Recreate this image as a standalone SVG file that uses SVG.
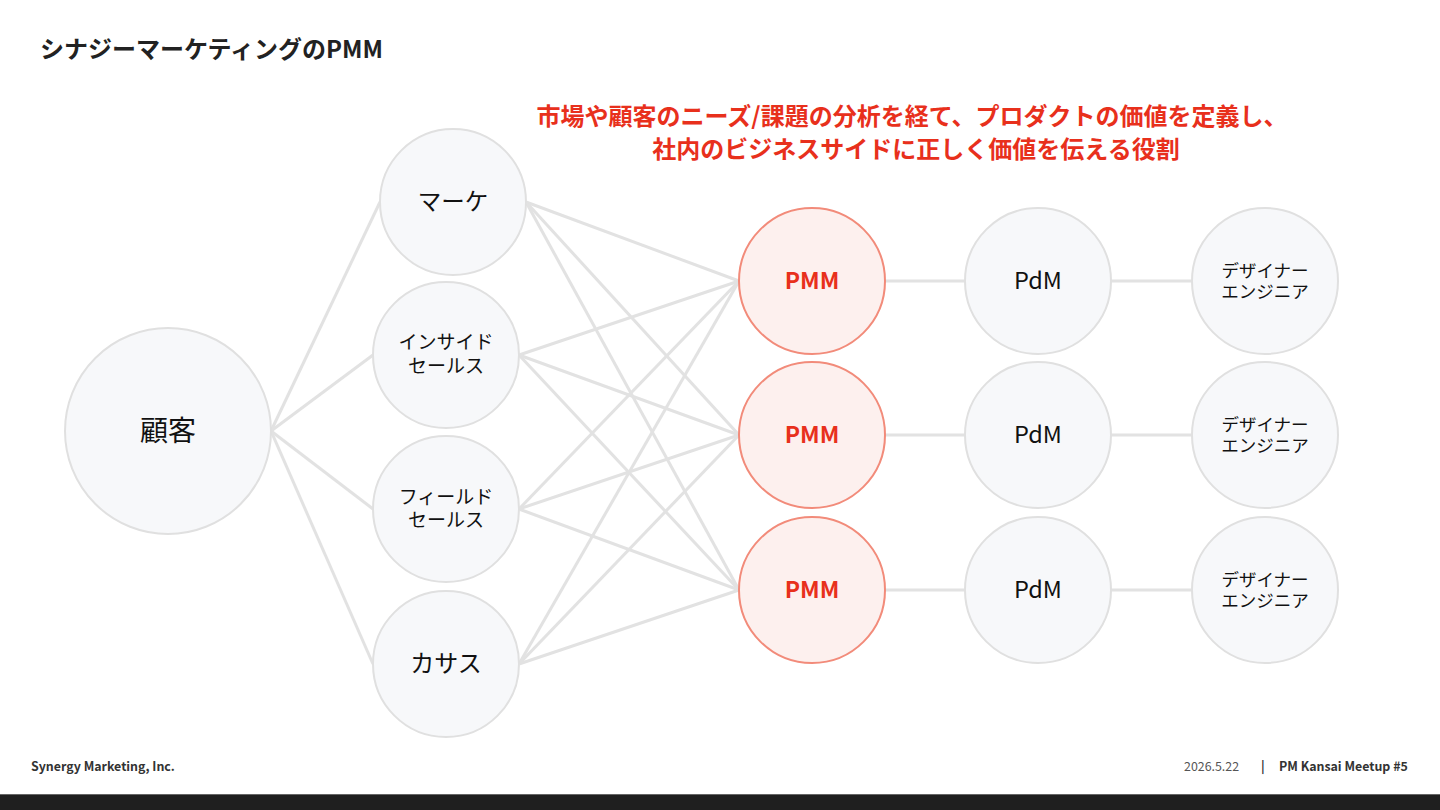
<svg xmlns="http://www.w3.org/2000/svg" width="1440" height="810" viewBox="0 0 1440 810">
<style>
text{font-family:"Noto Sans CJK JP","Noto Sans",sans-serif;}
text.m{font-family:"Liberation Sans","Noto Sans CJK JP",sans-serif;}
.j{font-family:"Noto Sans CJK JP",sans-serif;}
.n{fill:#f7f8fa;stroke:#e0e0e0;stroke-width:2;}
.p{fill:#fdf0ee;stroke:#f28b7a;stroke-width:2;}
.t{fill:#111;text-anchor:middle;}
.pt{fill:#e8301c;text-anchor:middle;font-weight:bold;font-size:23px;}
.d{font-size:17.5px;}
.s{font-size:19px;}
.e line{stroke:#e2e2e2;stroke-width:3;}
</style>
<rect width="1440" height="810" fill="#fff"/>
<text x="40" y="58" font-size="24" font-weight="bold" fill="#222">シナジーマーケティングのPMM</text>
<text class="m" font-size="24" font-weight="bold" fill="#e8301c" text-anchor="middle"><tspan x="912" y="125">市場や顧客のニーズ<tspan class="j">/</tspan>課題の分析を経て、プロダクトの価値を定義し、</tspan><tspan x="916" y="158">社内のビジネスサイドに正しく価値を伝える役割</tspan></text>
<g class="e" id="connectors">
<line x1="271" y1="431" x2="380" y2="202"/>
<line x1="271" y1="431" x2="373" y2="355"/>
<line x1="271" y1="431" x2="373" y2="509"/>
<line x1="271" y1="431" x2="373" y2="664"/>
<line x1="526" y1="202" x2="739" y2="281"/>
<line x1="526" y1="202" x2="739" y2="435"/>
<line x1="526" y1="202" x2="739" y2="590"/>
<line x1="519" y1="355" x2="739" y2="281"/>
<line x1="519" y1="355" x2="739" y2="435"/>
<line x1="519" y1="355" x2="739" y2="590"/>
<line x1="519" y1="509" x2="739" y2="281"/>
<line x1="519" y1="509" x2="739" y2="435"/>
<line x1="519" y1="509" x2="739" y2="590"/>
<line x1="519" y1="664" x2="739" y2="281"/>
<line x1="519" y1="664" x2="739" y2="435"/>
<line x1="519" y1="664" x2="739" y2="590"/>
<line x1="885" y1="281" x2="965" y2="281"/>
<line x1="885" y1="435" x2="965" y2="435"/>
<line x1="885" y1="590" x2="965" y2="590"/>
<line x1="1111" y1="281" x2="1192" y2="281"/>
<line x1="1111" y1="435" x2="1192" y2="435"/>
<line x1="1111" y1="590" x2="1192" y2="590"/>
</g>
<g id="customer"><circle class="n" cx="168" cy="431" r="103"/><text class="t" x="168" y="441" font-size="28">顧客</text></g>
<g id="marketing"><circle class="n" cx="453" cy="202" r="73"/><text class="t" x="453" y="210" font-size="23.5">マーケ</text></g>
<g id="inside-sales"><circle class="n" cx="446" cy="355" r="73"/><text class="t s m"><tspan x="446" y="349">インサイド</tspan><tspan x="446" y="373">セールス</tspan></text></g>
<g id="field-sales"><circle class="n" cx="446" cy="509" r="73"/><text class="t s m"><tspan x="446" y="504">フィールド</tspan><tspan x="446" y="527">セールス</tspan></text></g>
<g id="cs"><circle class="n" cx="446" cy="664" r="73"/><text class="t" x="446" y="672" font-size="24">カサス</text></g>
<g id="pmm1"><circle class="p" cx="812" cy="281" r="73"/><text class="pt" x="812" y="289">PMM</text></g>
<g id="pmm2"><circle class="p" cx="812" cy="435" r="73"/><text class="pt" x="812" y="443">PMM</text></g>
<g id="pmm3"><circle class="p" cx="812" cy="590" r="73"/><text class="pt" x="812" y="598">PMM</text></g>
<g id="pdm1"><circle class="n" cx="1038" cy="281" r="73"/><text class="t" x="1038" y="289" font-size="23.5">PdM</text></g>
<g id="pdm2"><circle class="n" cx="1038" cy="435" r="73"/><text class="t" x="1038" y="443" font-size="23.5">PdM</text></g>
<g id="pdm3"><circle class="n" cx="1038" cy="590" r="73"/><text class="t" x="1038" y="598" font-size="23.5">PdM</text></g>
<g id="de1"><circle class="n" cx="1265" cy="281" r="73"/><text class="t d m"><tspan x="1265" y="277">デザイナー</tspan><tspan x="1265" y="298">エンジニア</tspan></text></g>
<g id="de2"><circle class="n" cx="1265" cy="435" r="73"/><text class="t d m"><tspan x="1265" y="431">デザイナー</tspan><tspan x="1265" y="452">エンジニア</tspan></text></g>
<g id="de3"><circle class="n" cx="1265" cy="590" r="73"/><text class="t d m"><tspan x="1265" y="586">デザイナー</tspan><tspan x="1265" y="607">エンジニア</tspan></text></g>
<text x="31" y="771" font-size="12.4" font-weight="bold" fill="#333">Synergy Marketing, Inc.</text>
<text x="1184" y="771" font-size="12.4" fill="#555">2026.5.22</text>
<text x="1261" y="771" font-size="12.4" font-weight="bold" fill="#333">|</text>
<text x="1279" y="771" font-size="12.4" font-weight="bold" fill="#333">PM Kansai Meetup #5</text>
<rect x="0" y="795" width="1440" height="15" fill="#1f1f1f"/>
<rect x="0" y="794" width="1440" height="1" fill="#666"/>
</svg>
